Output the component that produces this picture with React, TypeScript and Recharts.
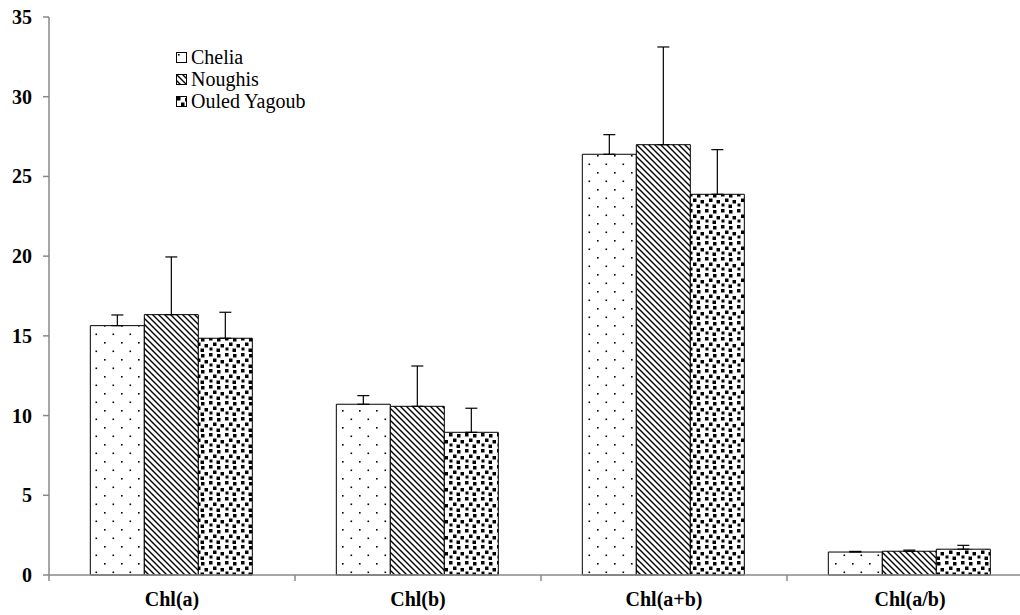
import React from 'react';
import { BarChart, Bar, XAxis, YAxis, ErrorBar, Legend } from 'recharts';

const categories = ['Chl(a)', 'Chl(b)', 'Chl(a+b)', 'Chl(a/b)'];
const seriesNames = ['Chelia', 'Noughis', 'Ouled Yagoub'];
const chelia = [15.64, 10.71, 26.39, 1.44];
const cheliaErr = [0.67, 0.54, 1.23, 0.04];
const noughis = [16.33, 10.58, 26.99, 1.49];
const noughisErr = [3.62, 2.53, 6.13, 0.07];
const ouled = [14.85, 8.95, 23.88, 1.62];
const ouledErr = [1.63, 1.51, 2.8, 0.24];
const yTicks = [0, 5, 10, 15, 20, 25, 30, 35];

const data = categories.map((name, i) => ({
  name,
  chelia: chelia[i],
  cheliaE: [0, cheliaErr[i]],
  noughis: noughis[i],
  noughisE: [0, noughisErr[i]],
  ouled: ouled[i],
  ouledE: [0, ouledErr[i]],
}));

const FONT = '"Liberation Serif", "Times New Roman", Times, serif';
const AXIS = '#898989';
const patIds = ['patDots', 'patHatch', 'patCheck'];

const XTick = (props: any) => {
  const { x, y, payload } = props;
  const off = payload && typeof payload.offset === 'number' ? payload.offset : 123;
  return (
    <g>
      <line x1={x - off} y1={y} x2={x - off} y2={y + 6} stroke={AXIS} strokeWidth={1.5} />
      <text x={x} y={y + 31} textAnchor="middle" fontFamily={FONT} fontSize={20} fontWeight="bold" fill="#000">
        {payload.value}
      </text>
    </g>
  );
};

const YTick = (props: any) => {
  const { x, y, payload } = props;
  return (
    <text x={x} y={y} dy="0.35em" textAnchor="end" fontFamily={FONT} fontSize={20} fontWeight="bold" fill="#000">
      {payload.value}
    </text>
  );
};

const LegendContent = (props: any) => {
  const payload = props.payload || [];
  return (
    <div style={{ fontFamily: FONT, fontSize: 20, color: '#000' }}>
      {payload.map((entry: any, i: number) => (
        <div key={entry.value} style={{ display: 'flex', alignItems: 'center', height: 22, whiteSpace: 'nowrap' }}>
          <svg width={11} height={11} style={{ marginRight: 4 }}>
            <rect x={0.5} y={0.5} width={10} height={10} fill={`url(#${patIds[i]})`} stroke="#000" strokeWidth={1} />
          </svg>
          <span style={{ fontFamily: FONT }}>{entry.value}</span>
        </div>
      ))}
    </div>
  );
};

export default function App() {
  return (
    <div style={{ position: 'absolute', left: 0, top: 0, width: 1020, height: 615, overflow: 'hidden', background: '#fff' }}>
      <BarChart
        width={1033}
        height={615}
        data={data}
        margin={{ top: 17, right: 0, left: 0, bottom: 0 }}
        barCategoryGap="16.8%"
        barGap={0}
      >
        <defs>
          <pattern id="patDots" patternUnits="userSpaceOnUse" width={17} height={17}>
            <rect width={17} height={17} fill="#fff" />
            <rect x={2} y={2} width={1.6} height={1.6} fill="#000" />
            <rect x={10.5} y={10.5} width={1.6} height={1.6} fill="#000" />
          </pattern>
          <pattern id="patHatch" patternUnits="userSpaceOnUse" width={6} height={6}>
            <rect width={6} height={6} fill="#fff" />
            <path d="M0,0 L6,6 M-1,5 L1,7 M5,-1 L7,1" stroke="#000" strokeWidth={1.4} />
          </pattern>
          <pattern id="patCheck" patternUnits="userSpaceOnUse" width={16} height={16}>
            <rect width={16} height={16} fill="#fff" />
            <rect x={1} y={1} width={3.5} height={3.5} fill="#000" />
            <rect x={9} y={2} width={3.5} height={3.5} fill="#000" />
            <rect x={5} y={6.5} width={3.5} height={3.5} fill="#000" />
            <rect x={12.5} y={8} width={3.5} height={3.5} fill="#000" />
            <rect x={1.5} y={11.5} width={3} height={3} fill="#000" />
            <rect x={8.5} y={12.5} width={3.5} height={3.5} fill="#000" />
          </pattern>
        </defs>
        <XAxis
          dataKey="name"
          height={40}
          stroke={AXIS}
          strokeWidth={1.5}
          tickLine={false}
          tickSize={0}
          tickMargin={0}
          tick={<XTick />}
          interval={0}
        />
        <YAxis
          width={49}
          domain={[0, 35]}
          ticks={yTicks}
          interval={0}
          stroke={AXIS}
          strokeWidth={1.5}
          tickSize={6}
          tickMargin={11}
          tick={<YTick />}
        />
        <Legend
          layout="vertical"
          align="center"
          verticalAlign="middle"
          content={<LegendContent />}
          wrapperStyle={{ left: 176, top: 46, width: 200, height: 70 }}
        />
        <Bar dataKey="chelia" name={seriesNames[0]} fill="url(#patDots)" stroke="#000" strokeWidth={1} isAnimationActive={false}>
          <ErrorBar dataKey="cheliaE" width={6} stroke="#000" strokeWidth={1.2} direction="y" />
        </Bar>
        <Bar dataKey="noughis" name={seriesNames[1]} fill="url(#patHatch)" stroke="#000" strokeWidth={1} isAnimationActive={false}>
          <ErrorBar dataKey="noughisE" width={6} stroke="#000" strokeWidth={1.2} direction="y" />
        </Bar>
        <Bar dataKey="ouled" name={seriesNames[2]} fill="url(#patCheck)" stroke="#000" strokeWidth={1} isAnimationActive={false}>
          <ErrorBar dataKey="ouledE" width={6} stroke="#000" strokeWidth={1.2} direction="y" />
        </Bar>
      </BarChart>
    </div>
  );
}
